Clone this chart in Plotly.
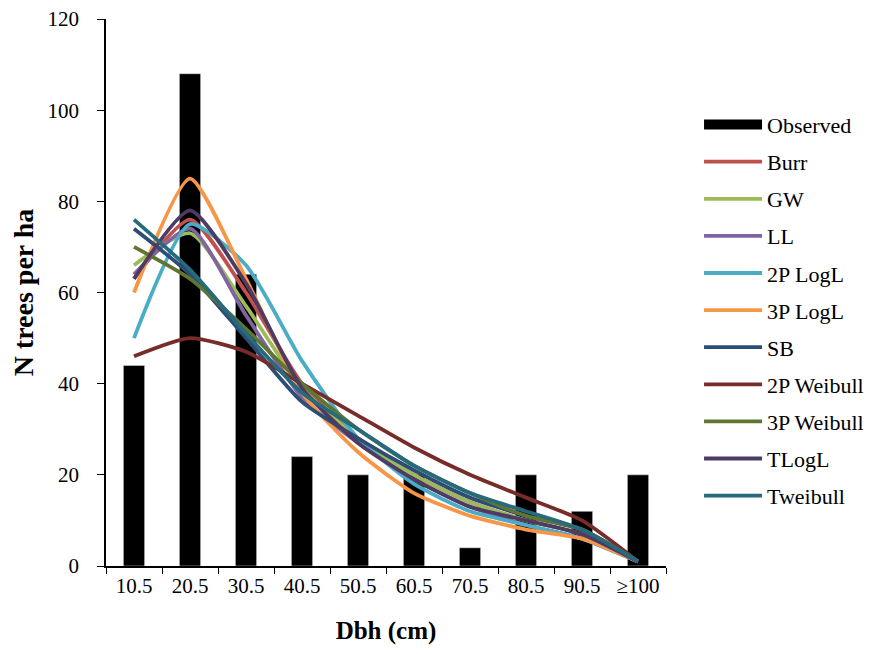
import plotly.graph_objects as go

categories = ["10.5", "20.5", "30.5", "40.5", "50.5", "60.5", "70.5", "80.5", "90.5", "≥100"]
observed = [44, 108, 64, 24, 20, 20, 4, 20, 12, 20]

series_names = ["Burr", "GW", "LL", "2P LogL", "3P LogL", "SB", "2P Weibull", "3P Weibull", "TLogL", "Tweibull"]
burr = [63, 76, 60, 40, 28, 20, 14, 10, 7, 1]
gw = [66, 73, 57, 39, 28, 20, 14, 10, 7, 1]
ll = [64, 74, 55, 37, 27, 19, 13, 9, 6, 1]
logl2p = [50, 75, 66, 45, 28, 18, 12, 9, 6, 1]
logl3p = [60, 85, 63, 38, 25, 16, 11, 8, 6, 1]
sb = [74, 64, 50, 36, 28, 21, 15, 11, 8, 1]
weibull2p = [46, 50, 47, 40, 33, 26, 20, 15, 10, 1]
weibull3p = [70, 63, 52, 40, 30, 22, 16, 11, 8, 1]
tlogl = [63, 78, 62, 39, 27, 19, 13, 10, 7, 1]
tweibull = [76, 65, 51, 38, 30, 22, 16, 12, 8, 1]
series_values = [burr, gw, ll, logl2p, logl3p, sb, weibull2p, weibull3p, tlogl, tweibull]
colors = ["#C0504D", "#9BBB59", "#8064A2", "#4BACC6", "#F79646",
          "#2C4D75", "#772C2A", "#5F7530", "#4D3B62", "#276A7C"]

FONT = "Liberation Serif"

fig = go.Figure()
fig.add_trace(go.Bar(x=categories, y=observed, name="Observed",
                     marker_color="black", showlegend=False))
# legend entry for the observed bars (wide black swatch, as in the original)
fig.add_trace(go.Scatter(x=[None], y=[None], name="Observed", mode="lines",
                         line=dict(color="black", width=12), legendgroup="obs"))
for name, vals, col in zip(series_names, series_values, colors):
    fig.add_trace(go.Scatter(x=categories, y=vals, name=name, mode="lines",
                             line=dict(color=col, width=3.8, shape="spline", smoothing=0.6),
                             legendgroup=name))

fig.update_layout(
    width=878, height=654,
    paper_bgcolor="white", plot_bgcolor="white",
    margin=dict(l=98, r=220, t=11, b=96),
    bargap=0.62,
    font=dict(family=FONT, size=21, color="black"),
    showlegend=True,
    legend=dict(x=1.059, y=0.845, xanchor="left", yanchor="top",
                font=dict(family=FONT, size=22, color="black"),
                tracegroupgap=5.5, itemwidth=58, traceorder="grouped"),
    xaxis=dict(type="category", range=[-0.5, 9.5], showline=True, linecolor="black",
               linewidth=1.5, ticks="outside", tickson="boundaries", ticklen=6,
               tickcolor="black", showgrid=False, automargin=False,
               title=dict(text="<b>Dbh (cm)</b>", font=dict(family=FONT, size=25), standoff=25),
               tickfont=dict(family=FONT, size=21)),
    yaxis=dict(range=[0, 120], dtick=20, showline=True, linecolor="black", linewidth=1.5,
               ticks="outside", ticklen=7, tickcolor="black", showgrid=False, zeroline=False,
               ticklabelstandoff=14, automargin=False, ticklabeloverflow="allow",
               title=dict(text="<b>N trees per ha</b>", font=dict(family=FONT, size=28), standoff=12),
               tickfont=dict(family=FONT, size=21)),
)

fig.write_html("out.html")
